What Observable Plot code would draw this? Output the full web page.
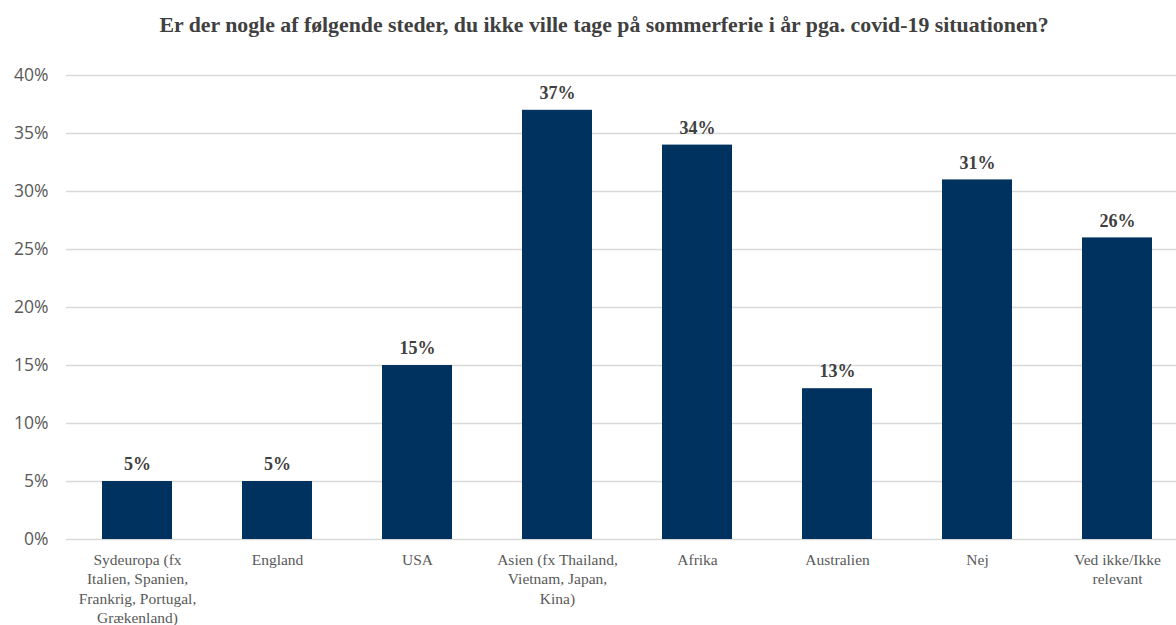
<!DOCTYPE html>
<html>
<head>
<meta charset="utf-8">
<script src="https://cdn.jsdelivr.net/npm/d3@7"></script>
<script src="https://cdn.jsdelivr.net/npm/@observablehq/plot@0.6"></script>
<style>
  body { margin: 0; background: #fff; }
  #title { height: 50px; box-sizing: border-box; padding-top: 13px; padding-left: 32px; text-align: center;
    font-family: "Liberation Serif", serif; font-weight: bold; font-size: 21.8px; color: #404040; }
</style>
</head>
<body>
<div id="title">Er der nogle af følgende steder, du ikke ville tage på sommerferie i år pga. covid-19 situationen?</div>
<div id="chart"></div>
<script>
const categories = [
  "Sydeuropa (fx\nItalien, Spanien,\nFrankrig, Portugal,\nGrækenland)",
  "England",
  "USA",
  "Asien (fx Thailand,\nVietnam, Japan,\nKina)",
  "Afrika",
  "Australien",
  "Nej",
  "Ved ikke/Ikke\nrelevant"
];
const values = [5, 5, 15, 37, 34, 13, 31, 26];
const yTicks = [0, 5, 10, 15, 20, 25, 30, 35, 40];

const data = categories.map((c, i) => ({category: c, value: values[i]}));

const plot = Plot.plot({
  width: 1176,
  height: 575,
  marginTop: 25,
  marginBottom: 86,
  marginLeft: 66,
  marginRight: 0,
  x: {domain: categories, range: [64, 1190], paddingInner: 0.5, paddingOuter: 0.25, axis: null},
  y: {domain: [0, 40], axis: null},
  style: {background: "#fff", overflow: "visible"},
  marks: [
    Plot.ruleY(yTicks, {y: d => d, stroke: "#d9d9d9", strokeWidth: 1.5}),
    Plot.text(yTicks, {y: d => d, text: d => d + "%", frameAnchor: "left",
      dx: -18, textAnchor: "end", fill: "#595959", fontSize: 17.5, fontFamily: "Open Sans, sans-serif"}),
    Plot.barY(data, {x: "category", y: "value", fill: "#00325F"}),
    Plot.text(data, {x: "category", y: "value", text: d => d.value + "%", dy: -17,
      fill: "#404040", fontSize: 18, fontWeight: "bold", fontFamily: "Liberation Serif, serif"}),
    Plot.text(data, {x: "category", y: () => 0, text: "category", dy: 12, lineAnchor: "top",
      lineHeight: 1.24, fill: "#595959", fontSize: 15.5, fontFamily: "Liberation Serif, serif"})
  ]
});
document.getElementById("chart").appendChild(plot);
</script>
</body>
</html>
